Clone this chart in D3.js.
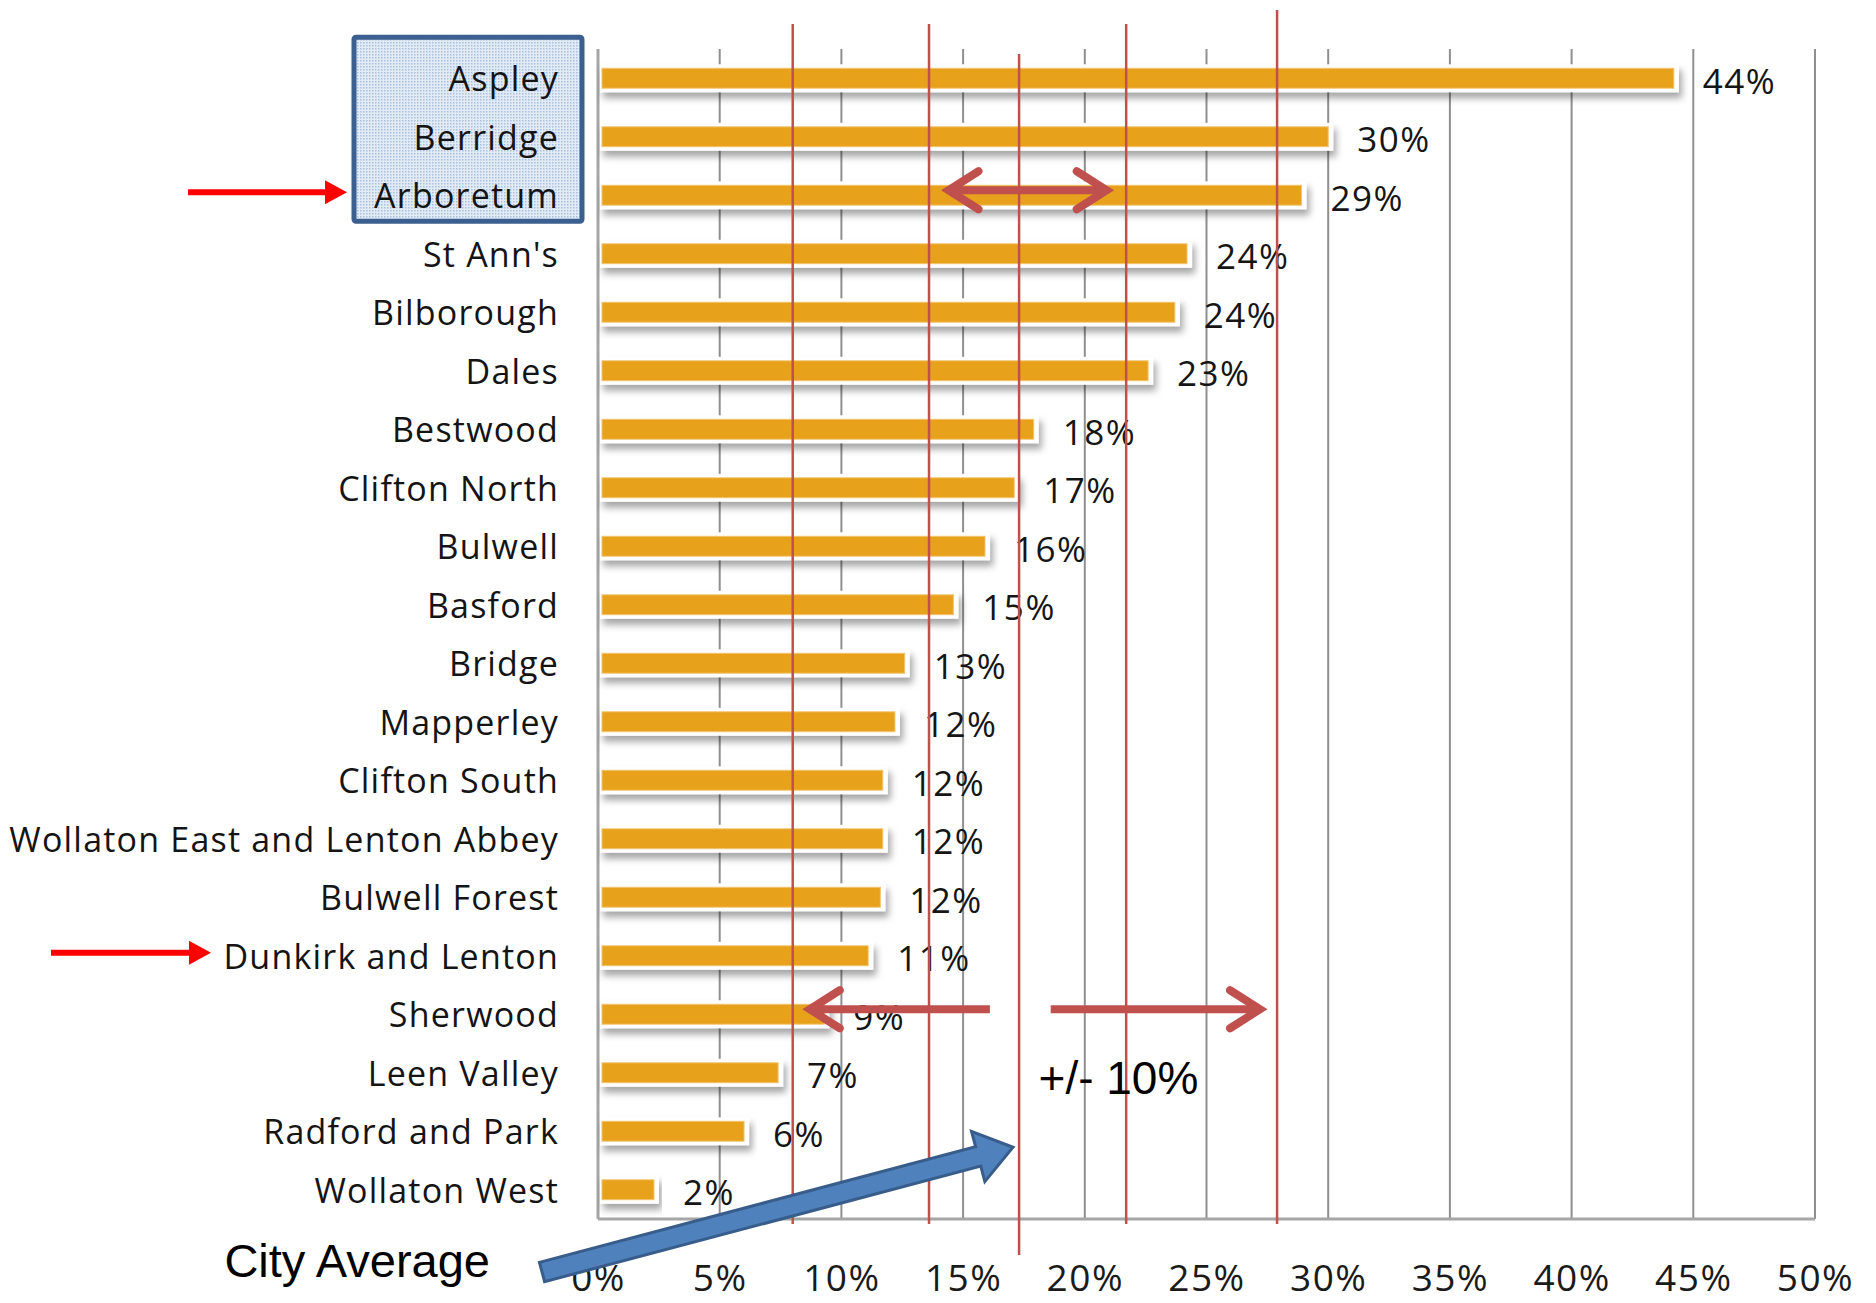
<!DOCTYPE html>
<html>
<head>
<meta charset="utf-8">
<script src="https://cdn.jsdelivr.net/npm/d3@7"></script>
<style>
  html, body { margin: 0; padding: 0; background: #fff; }
  svg { display: block; }
</style>
</head>
<body>
<div id="chart"></div>
<script>
// ward percentages (labels are the rounded values)
const wards = [
  'Aspley', 'Berridge', 'Arboretum', "St Ann's", 'Bilborough', 'Dales',
  'Bestwood', 'Clifton North', 'Bulwell', 'Basford', 'Bridge', 'Mapperley',
  'Clifton South', 'Wollaton East and Lenton Abbey', 'Bulwell Forest',
  'Dunkirk and Lenton', 'Sherwood', 'Leen Valley', 'Radford and Park', 'Wollaton West'
];
const values = [44.2, 30.0, 28.9, 24.2, 23.7, 22.6, 17.9, 17.1, 15.9, 14.6,
                12.6, 12.2, 11.7, 11.7, 11.6, 11.1, 9.3, 7.4, 6.0, 2.3];
const valueLabels = ['44%', '30%', '29%', '24%', '24%', '23%', '18%', '17%', '16%', '15%',
                     '13%', '12%', '12%', '12%', '12%', '11%', '9%', '7%', '6%', '2%'];
const xTicks = [0, 5, 10, 15, 20, 25, 30, 35, 40, 45, 50];

// annotation lines (in %): city average and the +/- bands
const refLines = [8.0, 13.6, 17.3, 21.7, 27.9];
const cityAverage = 17.3;
// highlighted wards
const boxedWards = ['Aspley', 'Berridge', 'Arboretum'];
const pointedWards = ['Arboretum', 'Dunkirk and Lenton'];
// double arrows (from %, to %) on a ward row
const spanArrows = [
  { ward: 'Arboretum', from: 14.4, to: 20.9 },
  { ward: 'Sherwood', from: 16.1, to: 8.7 },
  { ward: 'Sherwood', from: 18.6, to: 27.2 }
];

const W = 1876, H = 1303;
const margin = { top: 49, right: 61, bottom: 84, left: 598 };

const svg = d3.select('#chart').append('svg')
  .attr('width', W).attr('height', H);

const defs = svg.append('defs');
const shadow = defs.append('filter').attr('id', 'ombra')
  .attr('x', '-5%').attr('y', '-60%').attr('width', '110%').attr('height', '260%');
shadow.append('feDropShadow')
  .attr('dx', 3).attr('dy', 6).attr('stdDeviation', 3.5)
  .attr('flood-color', '#000').attr('flood-opacity', 0.35);

// dotted light blue fill for the highlight box
const pat = defs.append('pattern').attr('id', 'puntini')
  .attr('width', 3).attr('height', 3).attr('patternUnits', 'userSpaceOnUse');
pat.append('rect').attr('width', 3).attr('height', 3).attr('fill', '#e3ebf6');
pat.append('rect').attr('width', 1.5).attr('height', 1.5).attr('fill', '#a8bfdf');

const x = d3.scaleLinear().domain([0, 50]).range([margin.left, W - margin.right]);
const y = d3.scaleBand().domain(wards)
  .range([margin.top, H - margin.bottom])
  .paddingInner(0.66).paddingOuter(0.33);
const rowMid = w => y(w) + y.bandwidth() / 2;
const plotTop = margin.top, plotBottom = H - margin.bottom;

// vertical gridlines
svg.append('g').selectAll('line')
  .data(xTicks)
  .join('line')
  .attr('x1', d => x(d)).attr('x2', d => x(d))
  .attr('y1', plotTop).attr('y2', plotBottom)
  .attr('stroke', '#8f8f8f').attr('stroke-width', 2);

// left and bottom axis lines
svg.append('line')
  .attr('x1', x(0)).attr('x2', x(0)).attr('y1', plotTop).attr('y2', plotBottom)
  .attr('stroke', '#a6a6a6').attr('stroke-width', 3);
svg.append('line')
  .attr('x1', x(0)).attr('x2', x(50)).attr('y1', plotBottom).attr('y2', plotBottom)
  .attr('stroke', '#a6a6a6').attr('stroke-width', 3);

// bars: white halo with soft shadow, then the orange bar
const bars = svg.append('g').selectAll('g')
  .data(wards.map((w, i) => ({ ward: w, value: values[i], label: valueLabels[i] })))
  .join('g');

bars.append('rect')
  .attr('x', x(0) + 2)
  .attr('y', d => y(d.ward) - 4)
  .attr('width', d => x(d.value) - x(0) + 3)
  .attr('height', y.bandwidth() + 8)
  .attr('fill', '#fff')
  .attr('filter', 'url(#ombra)');

bars.append('rect')
  .attr('x', x(0) + 4)
  .attr('y', d => y(d.ward))
  .attr('width', d => x(d.value) - x(0) - 4)
  .attr('height', y.bandwidth())
  .attr('fill', '#e8a11b')
  .attr('stroke', '#f2c46e').attr('stroke-width', 1);

bars.append('text')
  .attr('x', d => x(d.value) + 29)
  .attr('y', d => rowMid(d.ward) + 2)
  .attr('dominant-baseline', 'central')
  .attr('font-family', '"Open Sans", sans-serif')
  .attr('font-size', 35)
  .attr('letter-spacing', 1.5)
  .attr('fill', '#151515')
  .text(d => d.label);

// highlight box behind the first three names
const boxTop = y(boxedWards[0]) - 31;
const boxBottom = y(boxedWards[boxedWards.length - 1]) + y.bandwidth() + 16;
svg.append('rect')
  .attr('x', 354).attr('y', boxTop)
  .attr('width', 228).attr('height', boxBottom - boxTop)
  .attr('rx', 2)
  .attr('fill', 'url(#puntini)')
  .attr('stroke', '#3b5f8e').attr('stroke-width', 5);

// category labels
svg.append('g').selectAll('text')
  .data(wards)
  .join('text')
  .attr('x', x(0) - 39)
  .attr('y', d => rowMid(d))
  .attr('text-anchor', 'end')
  .attr('dominant-baseline', 'central')
  .attr('font-family', '"Open Sans", sans-serif')
  .attr('font-size', 34)
  .attr('letter-spacing', 1.2)
  .attr('fill', '#141414')
  .text(d => d);

// x axis labels
const xAxis = svg.append('g')
  .attr('transform', `translate(0,${plotBottom})`)
  .call(d3.axisBottom(x).tickValues(xTicks).tickSize(0).tickPadding(46).tickFormat(d => d + '%'));
xAxis.select('.domain').remove();
xAxis.selectAll('text')
  .attr('font-family', '"Open Sans", sans-serif')
  .attr('font-size', 37)
  .attr('letter-spacing', 1.5)
  .attr('fill', '#1a1a1a');

// red reference lines
svg.append('g').selectAll('line')
  .data(refLines)
  .join('line')
  .attr('x1', d => x(d)).attr('x2', d => x(d))
  .attr('y1', d => d === cityAverage ? plotTop + 5 : (d === 27.9 ? plotTop - 39 : plotTop - 25))
  .attr('y2', d => d === cityAverage ? plotBottom + 36 : plotBottom + 5)
  .attr('stroke', '#c0504d').attr('stroke-width', 2.5);

// chevron arrows on rows
const arrowG = svg.append('g')
  .attr('stroke', '#c0504d').attr('stroke-width', 8).attr('fill', 'none');
spanArrows.forEach((a, i) => {
  const yy = rowMid(a.ward) - 5;
  const dir = Math.sign(a.to - a.from);
  const x0 = x(a.from), x1 = x(a.to);
  arrowG.append('line').attr('x1', x0).attr('x2', x1 - dir * 3)
    .attr('y1', yy).attr('y2', yy);
  arrowG.append('polyline')
    .attr('points', `${x1 - dir * 30},${yy - 19} ${x1},${yy} ${x1 - dir * 30},${yy + 19}`)
    .attr('stroke-linecap', 'round').attr('stroke-linejoin', 'miter');
  if (i === 0) {
    arrowG.append('polyline')
      .attr('points', `${x0 + dir * 30},${yy - 19} ${x0},${yy} ${x0 + dir * 30},${yy + 19}`)
      .attr('stroke-linecap', 'round');
  }
});

// bright red pointer arrows at the left
const pointerEnds = { 'Arboretum': [188, 347], 'Dunkirk and Lenton': [51, 211] };
pointedWards.forEach(w => {
  const [a, b] = pointerEnds[w];
  const yy = rowMid(w) - 3;
  svg.append('path')
    .attr('d', `M${a},${yy - 3} L${b - 22},${yy - 3} L${b - 22},${yy - 12} L${b},${yy} ` +
               `L${b - 22},${yy + 12} L${b - 22},${yy + 3} L${a},${yy + 3} Z`)
    .attr('fill', '#ff0000');
});

// "+/- 10%" note
svg.append('text')
  .attr('x', x(18.1))
  .attr('y', rowMid('Leen Valley') + 21)
  .attr('font-family', '"Liberation Sans", Arial, sans-serif')
  .attr('font-size', 46)
  .attr('fill', '#000')
  .text('+/- 10%');

// blue block arrow pointing at the city average line
const tail = [x(-2.3), plotBottom + 53];
const tip = [x(17.05), rowMid('Radford and Park') + 16];
const L = Math.hypot(tip[0] - tail[0], tip[1] - tail[1]);
const ang = Math.atan2(tip[1] - tail[1], tip[0] - tail[0]) * 180 / Math.PI;
const sw = 10, hw = 26, hl = 36;
svg.append('path')
  .attr('transform', `translate(${tail[0]},${tail[1]}) rotate(${ang})`)
  .attr('d', `M0,${-sw} L${L - hl},${-sw} L${L - hl},${-hw} L${L},0 L${L - hl},${hw} ` +
             `L${L - hl},${sw} L0,${sw} Z`)
  .attr('fill', '#4f81bd').attr('stroke', '#385d8a').attr('stroke-width', 3);

svg.append('text')
  .attr('x', x(-2.3) - 52)
  .attr('y', plotBottom + 58)
  .attr('text-anchor', 'end')
  .attr('font-family', '"Liberation Sans", Arial, sans-serif')
  .attr('font-size', 47)
  .attr('fill', '#000')
  .text('City Average');
</script>
</body>
</html>
